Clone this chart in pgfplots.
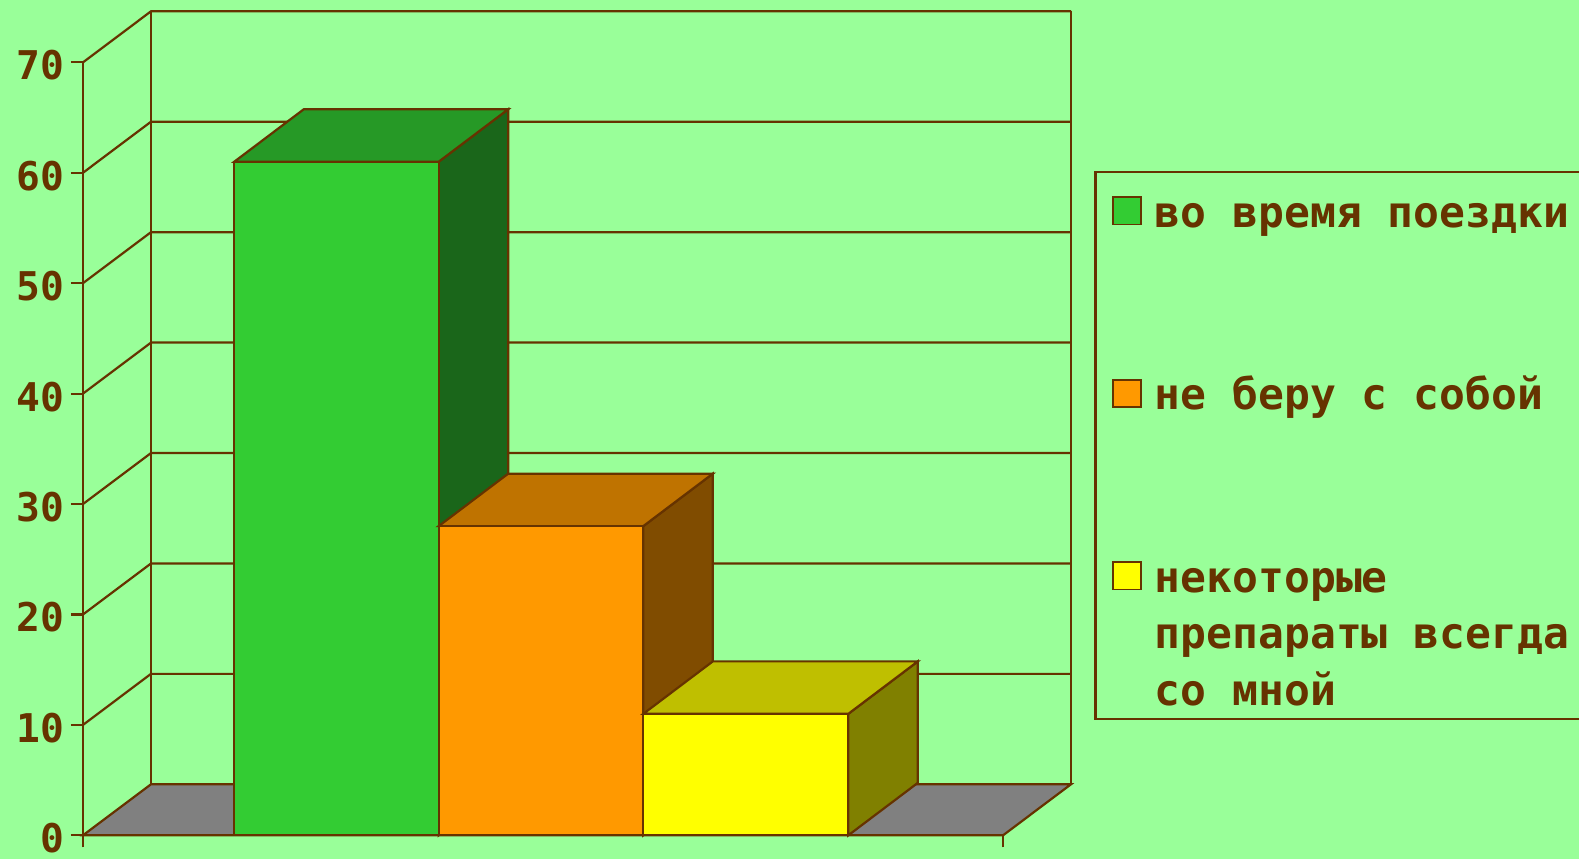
\documentclass[border=0pt]{standalone}
\usepackage{pgfplots}
\pgfplotsset{compat=1.18}
\usepackage{fontspec}
\setmainfont{DejaVu Sans Mono}
\definecolor{bg}{HTML}{99FF99}
\definecolor{ln}{HTML}{663300}
\definecolor{gF}{HTML}{33CC33}\definecolor{gT}{HTML}{269926}\definecolor{gS}{HTML}{1A661A}
\definecolor{oF}{HTML}{FF9900}\definecolor{oT}{HTML}{BF7300}\definecolor{oS}{HTML}{804C00}
\definecolor{yF}{HTML}{FFFF00}\definecolor{yT}{HTML}{BFBF00}\definecolor{yS}{HTML}{808000}
\definecolor{fl}{HTML}{808080}
\begin{document}
\begin{tikzpicture}
\path[use as bounding box, fill=bg] (-41.5pt,-11.85pt) rectangle (748pt,417.65pt);
\begin{axis}[
  scale only axis, width=494pt, height=412pt,
  xmin=0, xmax=988, ymin=0, ymax=74.62,
  clip=false,
  axis lines=left, axis line style={draw=none},
  tick align=outside, major tick length=6pt,
  tick style={ln, line width=1.1pt},
  xtick={0,920}, xticklabels={,,},
  ytick={0,10,...,70},
  /pgf/number format/assume math mode=true,
  yticklabel style={font=\fontsize{19.8}{24}\selectfont\bfseries, text=ln, yshift=-1.5pt, inner ysep=0pt},
  legend style={at={(axis description cs:1.0237,0.8063)}, anchor=north west,
    draw=ln, line width=1.1pt, fill=none, inner xsep=8.35pt, inner ysep=0.5pt,
    row sep=58.25pt, column sep=6.5pt,
    font=\fontsize{21.5}{28.35}\selectfont\bfseries, text=ln,
    cells={anchor=base west},
    nodes={inner sep=0pt, text height=27pt, text depth=6pt}},
]
% back wall grid + left wall
\addplot[ln, line width=1.1pt, forget plot] coordinates {(0,10) (68,14.62) (988,14.62)};
\addplot[ln, line width=1.1pt, forget plot] coordinates {(0,20) (68,24.62) (988,24.62)};
\addplot[ln, line width=1.1pt, forget plot] coordinates {(0,30) (68,34.62) (988,34.62)};
\addplot[ln, line width=1.1pt, forget plot] coordinates {(0,40) (68,44.62) (988,44.62)};
\addplot[ln, line width=1.1pt, forget plot] coordinates {(0,50) (68,54.62) (988,54.62)};
\addplot[ln, line width=1.1pt, forget plot] coordinates {(0,60) (68,64.62) (988,64.62)};
\addplot[ln, line width=1.1pt, forget plot] coordinates {(0,70) (68,74.62) (988,74.62)};
\addplot[ln, line width=1.1pt, forget plot] coordinates {(68,4.62) (68,74.62)};
\addplot[ln, line width=1.1pt, forget plot] coordinates {(988,4.62) (988,74.62)};
% floor
\addplot[fill=fl, draw=ln, line width=1.1pt, forget plot] coordinates {(0,0) (920,0) (988,4.62) (68,4.62)} --cycle;
% green bar (61)
\addplot[fill=gS, draw=ln, line width=1.1pt, forget plot] coordinates {(355.7,0) (425.2,4.75) (425.2,65.75) (355.7,61)} --cycle;
\addplot[fill=gT, draw=ln, line width=1.1pt, forget plot] coordinates {(151.3,61) (355.7,61) (425.2,65.75) (220.8,65.75)} --cycle;
\addplot[ybar, bar width=204.4, bar shift=0pt, fill=gF, draw=ln, line width=1.1pt,
  legend image code/.code={\draw[fill=gF, draw=ln, line width=0.8pt] (0.4pt,1.3pt) rectangle (14.4pt,14.9pt);}]
  coordinates {(253.5,61)};
\addlegendentry{во время поездки}
% orange bar (28)
\addplot[fill=oS, draw=ln, line width=1.1pt, forget plot] coordinates {(560.3,0) (629.8,4.75) (629.8,32.75) (560.3,28)} --cycle;
\addplot[fill=oT, draw=ln, line width=1.1pt, forget plot] coordinates {(355.7,28) (560.3,28) (629.8,32.75) (425.2,32.75)} --cycle;
\addplot[ybar, bar width=204.6, bar shift=0pt, fill=oF, draw=ln, line width=1.1pt,
  legend image code/.code={\draw[fill=oF, draw=ln, line width=0.8pt] (0.4pt,1.3pt) rectangle (14.4pt,14.9pt);}]
  coordinates {(458,28)};
\addlegendentry{не беру с собой}
% yellow bar (11)
\addplot[fill=yS, draw=ln, line width=1.1pt, forget plot] coordinates {(765.3,0) (834.8,4.75) (834.8,15.75) (765.3,11)} --cycle;
\addplot[fill=yT, draw=ln, line width=1.1pt, forget plot] coordinates {(560.3,11) (765.3,11) (834.8,15.75) (629.8,15.75)} --cycle;
\addplot[ybar, bar width=205, bar shift=0pt, fill=yF, draw=ln, line width=1.1pt,
  legend image code/.code={\draw[fill=yF, draw=ln, line width=0.8pt] (0.4pt,1.3pt) rectangle (14.4pt,14.9pt);}]
  coordinates {(662.8,11)};
\addlegendentry[text depth=62.8pt]{\parbox[t]{12cm}{некоторые\\препараты всегда\\со мной}}
% front axis line
\addplot[ln, line width=1.1pt, forget plot] coordinates {(0,0) (0,70)};
\end{axis}
\end{tikzpicture}
\end{document}
